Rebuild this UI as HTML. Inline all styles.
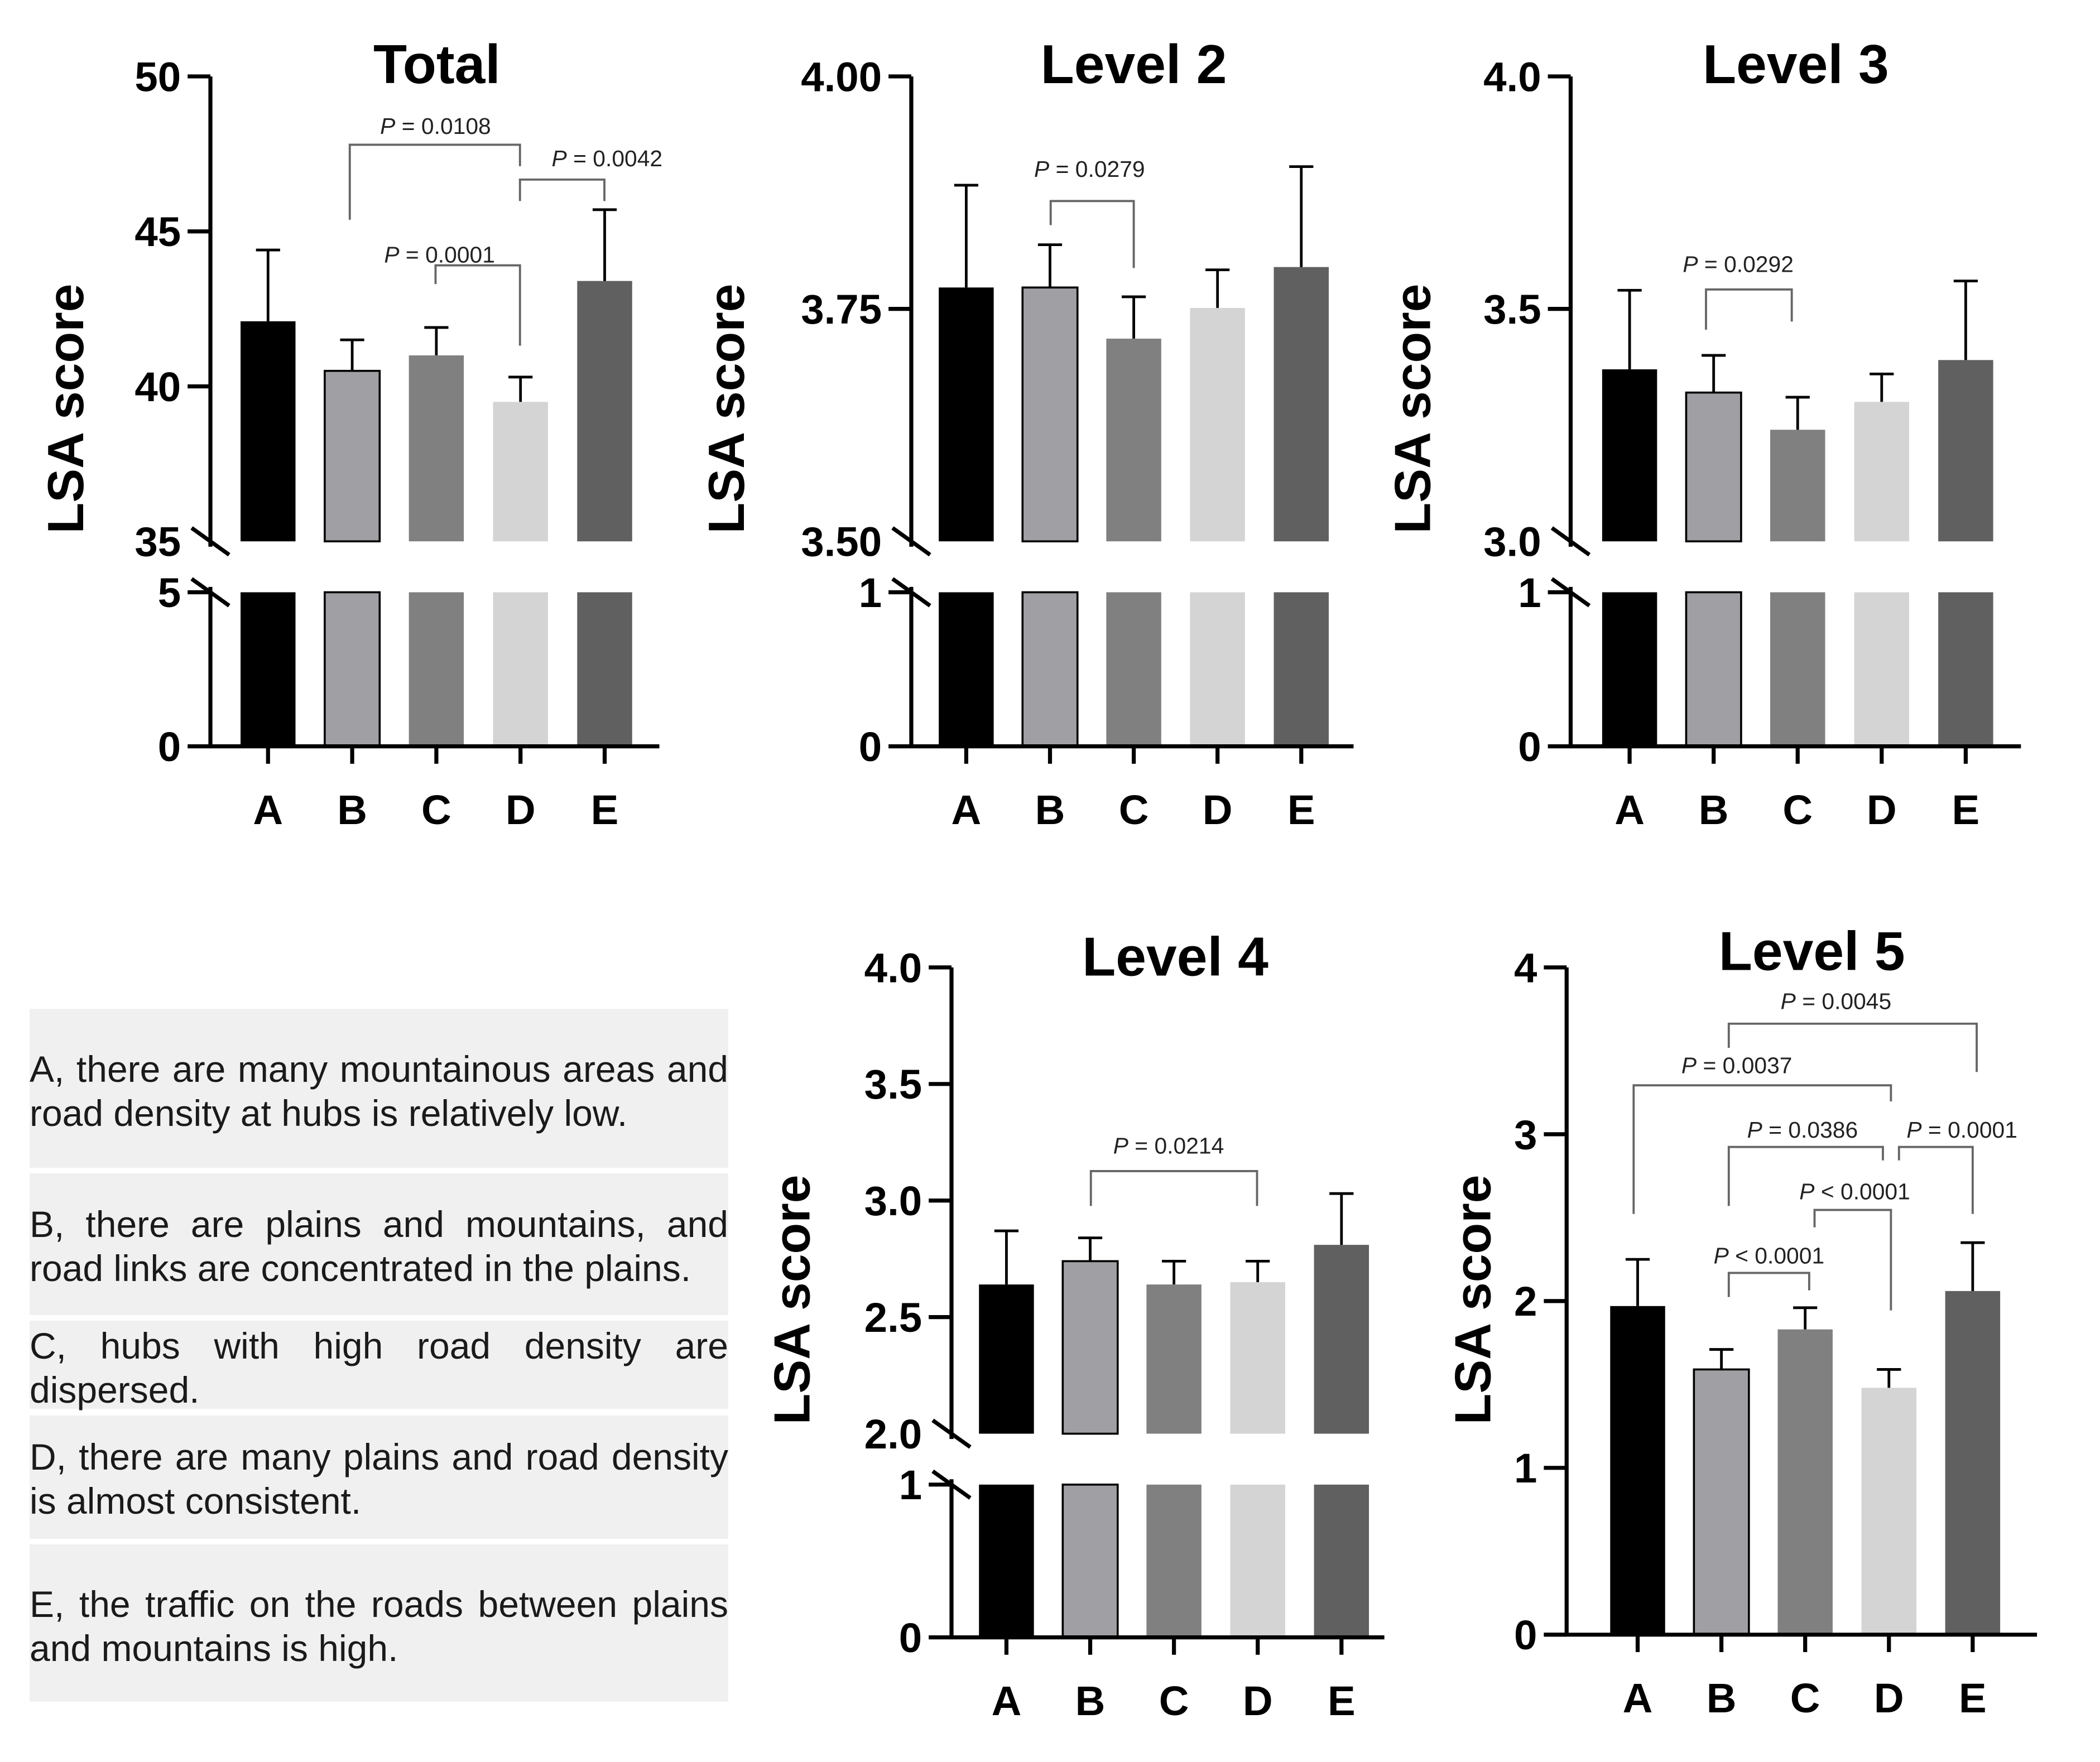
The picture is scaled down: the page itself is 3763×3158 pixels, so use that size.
<!DOCTYPE html>
<html><head><meta charset="utf-8"><style>
html,body{margin:0;padding:0;background:#fff}
svg{display:block}
.box{position:absolute;background:#f0f0f0}
.ln{position:absolute;left:53px;width:1252px;font-family:"Liberation Sans",sans-serif;color:#1a1a1a;font-size:66px;line-height:79px;height:79px;white-space:nowrap}
.j{text-align:justify;text-align-last:justify;white-space:normal}
</style></head><body>
<div style="position:relative;width:3763px;height:3158px;overflow:hidden">
<svg id="fig" width="3763" height="3158" viewBox="0 0 1567 1315" xmlns="http://www.w3.org/2000/svg" style="position:absolute;left:0;top:0"></svg>
<div class="box" style="left:53px;top:1808px;width:1252px;height:285px"></div>
<div class="box" style="left:53px;top:2103px;width:1252px;height:254px"></div>
<div class="box" style="left:53px;top:2367px;width:1252px;height:158px"></div>
<div class="box" style="left:53px;top:2537px;width:1252px;height:221px"></div>
<div class="box" style="left:53px;top:2768px;width:1252px;height:282px"></div>
<div class="ln j" style="top:1877px">A, there are many mountainous areas and</div>
<div class="ln" style="top:1956px">road density at hubs is relatively low.</div>
<div class="ln j" style="top:2155px">B, there are plains and mountains, and</div>
<div class="ln" style="top:2234px">road links are concentrated in the plains.</div>
<div class="ln j" style="top:2373px">C, hubs with high road density are</div>
<div class="ln" style="top:2452px">dispersed.</div>
<div class="ln j" style="top:2572px">D, there are many plains and road density</div>
<div class="ln" style="top:2651px">is almost consistent.</div>
<div class="ln j" style="top:2836px">E, the traffic on the roads between plains</div>
<div class="ln" style="top:2915px">and mountains is high.</div>
</div>
<script>
const categories = ["A","B","C","D","E"];
const totalMeans = [42.1, 40.5, 41.0, 39.5, 43.4];
const totalErrs  = [44.4, 41.5, 41.9, 40.3, 45.7];
const totalTicks = ["50","45","40","35"];
const level2Means = [3.773, 3.773, 3.718, 3.751, 3.795];
const level2Errs  = [3.883, 3.819, 3.763, 3.792, 3.903];
const level2Ticks = ["4.00","3.75","3.50"];
const level3Means = [3.37, 3.32, 3.24, 3.30, 3.39];
const level3Errs  = [3.54, 3.40, 3.31, 3.36, 3.56];
const level3Ticks = ["4.0","3.5","3.0"];
const level4Means = [2.64, 2.74, 2.64, 2.65, 2.81];
const level4Errs  = [2.87, 2.84, 2.74, 2.74, 3.03];
const level4Ticks = ["4.0","3.5","3.0","2.5","2.0"];
const level5Means = [1.97, 1.59, 1.83, 1.48, 2.06];
const level5Errs  = [2.25, 1.71, 1.96, 1.59, 2.35];
const level5Ticks = ["4","3","2","1","0"];
const fills = ["#000000","#a0a0a4","#808080","#d4d4d4","#606060"];

const NS="http://www.w3.org/2000/svg";
const svg=document.getElementById('fig');
function mk(tag,attrs,parent){const e=document.createElementNS(NS,tag);for(const k in attrs)e.setAttribute(k,attrs[k]);(parent||svg).appendChild(e);return e;}
function txt(s,x,y,size,opts,parent){const t=mk('text',Object.assign({x:x,y:y,'font-size':size,'font-family':'Liberation Sans, sans-serif'},opts||{}),parent);t.textContent=s;return t;}

function panel(p){
  const g=mk('g',{});
  
  
  const ax=p.ax;
  const upTop=parseFloat(p.ticks[0]), upBot=parseFloat(p.ticks[p.ticks.length-1]);
  const yU=v=>p.yTop+(upTop-Math.max(upBot,Math.min(upTop,v)))/(upTop-upBot)*(p.yBreak-p.yTop);
  const xC=i=>p.x0+i*p.dx;
  const bw=41;
  categories.forEach((c,i)=>{
    const yv=yU(p.means[i]);
    const b=mk('rect',{x:xC(i)-bw/2,y:yv,width:bw,height:p.yBreak-yv,fill:fills[i],stroke:i==1?'#000':'none','stroke-width':1.5},g);
    
    
    if(p.lowTop!==undefined){
      const b2=mk('rect',{x:xC(i)-bw/2,y:p.lowTop,width:bw,height:p.y0-p.lowTop,fill:fills[i],stroke:i==1?'#000':'none','stroke-width':1.5},g);
      
      
    }
    const ye=yU(p.errs[i]);
    const e=mk('path',{d:`M${xC(i)} ${yv}V${ye}M${xC(i)-9} ${ye}H${xC(i)+9}`,stroke:'#000','stroke-width':2,fill:'none'},g);
    
    
    mk('line',{x1:xC(i),y1:p.y0,x2:xC(i),y2:p.y0+13,stroke:'#000','stroke-width':3},g);
    const xl=txt(c,xC(i),p.y0+58,31,{'font-weight':'bold','text-anchor':'middle'},g);
    
    
  });
  mk('line',{x1:p.xL,y1:p.y0,x2:p.xR,y2:p.y0,stroke:'#000','stroke-width':3},g);
  if(p.lowTop!==undefined){
    mk('line',{x1:ax,y1:p.yTop,x2:ax,y2:p.yBreak+4,stroke:'#000','stroke-width':3},g);
    mk('line',{x1:ax,y1:p.lowTop-4,x2:ax,y2:p.y0,stroke:'#000','stroke-width':3},g);
    mk('line',{x1:ax-14,y1:p.yBreak-10,x2:ax+14,y2:p.yBreak+10,stroke:'#000','stroke-width':3},g);
    mk('line',{x1:ax-14,y1:p.lowTop-10,x2:ax+14,y2:p.lowTop+10,stroke:'#000','stroke-width':3},g);
    mk('line',{x1:ax-17,y1:p.lowTop,x2:ax,y2:p.lowTop,stroke:'#000','stroke-width':3},g);
    txt(p.lowLabel,ax-22,p.lowTop+11,31,{'font-weight':'bold','text-anchor':'end'},g);
    txt('0',ax-22,p.y0+11,31,{'font-weight':'bold','text-anchor':'end'},g);
  } else {
    mk('line',{x1:ax,y1:p.yTop,x2:ax,y2:p.y0,stroke:'#000','stroke-width':3},g);
  }
  p.ticks.forEach((t,k)=>{
    const y=yU(parseFloat(t));
    if(!(p.lowTop!==undefined && k==p.ticks.length-1)) mk('line',{x1:ax-17,y1:y,x2:ax,y2:y,stroke:'#000','stroke-width':3},g);
    const tl=txt(t,ax-22,y+11,31,{'font-weight':'bold','text-anchor':'end'},g);
    
    
  });
  const ti=txt(p.title,p.tx,p.ty,41,{'font-weight':'bold','text-anchor':'middle'},g);
  
  
  const ya=txt('LSA score',0,0,38,{'font-weight':'bold','text-anchor':'middle',transform:`translate(${p.yax} ${p.yay}) rotate(-90)`},g);
  
  
  (p.brackets||[]).forEach(b=>{
    const br=mk('path',{d:`M${b[0]} ${b[2]}V${b[1]}H${b[3]}V${b[4]}`,stroke:'#666','stroke-width':1.6,fill:'none'},g);
    
    
    const t=mk('text',{x:b[6],y:b[7],'font-size':17,'font-family':'Liberation Sans, sans-serif','text-anchor':'middle',fill:'#222'},g);
    
    
    const ts=mk('tspan',{'font-style':'italic'},t);ts.textContent='P';
    const t2=mk('tspan',{},t);t2.textContent=' '+b[5];
  });
}
panel({name:'panel-total',title:'Total',tx:326,ty:62,yax:62,yay:305,ax:157,xL:140,xR:492,x0:200,dx:62.8,yTop:57,yBreak:404,lowTop:442,y0:557,lowLabel:'5',ticks:totalTicks,means:totalMeans,errs:totalErrs,
  brackets:[[261,108,164,388,124,'= 0.0108',325,100],[388,134,150,451,150,'= 0.0042',453,124],[325,198,212,388,258,'= 0.0001',328,196]]});
panel({name:'panel-level-2',title:'Level 2',tx:846,ty:62,yax:555,yay:305,ax:680,xL:663,xR:1010,x0:721,dx:62.5,yTop:57,yBreak:404,lowTop:442,y0:557,lowLabel:'1',ticks:level2Ticks,means:level2Means,errs:level2Errs,
  brackets:[[784,150,168,846,200,'= 0.0279',813,132]]});
panel({name:'panel-level-3',title:'Level 3',tx:1340,ty:62,yax:1067,yay:305,ax:1172,xL:1155,xR:1508,x0:1216,dx:62.7,yTop:57,yBreak:404,lowTop:442,y0:557,lowLabel:'1',ticks:level3Ticks,means:level3Means,errs:level3Errs,
  brackets:[[1273,216,246,1337,240,'= 0.0292',1297,203]]});
panel({name:'panel-level-4',title:'Level 4',tx:877,ty:728,yax:604,yay:970,ax:710,xL:693,xR:1033,x0:751,dx:62.5,yTop:722,yBreak:1070,lowTop:1108,y0:1222,lowLabel:'1',ticks:level4Ticks,means:level4Means,errs:level4Errs,
  brackets:[[814,874,900,938,900,'= 0.0214',872,861]]});
panel({name:'panel-level-5',title:'Level 5',tx:1352,ty:724,yax:1112,yay:970,ax:1169,xL:1152,xR:1520,x0:1222,dx:62.5,yTop:722,yBreak:1220,y0:1220,ticks:level5Ticks,means:level5Means,errs:level5Errs,
  brackets:[[1290,764,782,1475,800,'= 0.0045',1370,753],[1219,810,906,1411,822,'= 0.0037',1296,801],[1290,856,900,1405,866,'= 0.0386',1345,849],[1417,856,866,1472,906,'= 0.0001',1464,849],[1354,903,916,1411,978,'< 0.0001',1384,895],[1290,950,968,1350,963,'< 0.0001',1320,943]]});
</script>
</body></html>
